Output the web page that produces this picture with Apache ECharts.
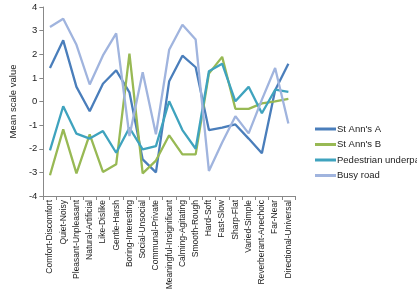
<!DOCTYPE html>
<html>
<head>
<meta charset="utf-8">
<script src="https://cdn.jsdelivr.net/npm/echarts@6/dist/echarts.min.js"></script>
<style>
  html, body { margin: 0; padding: 0; background: #fff; }
  #chart { width: 417px; height: 303px; }
</style>
</head>
<body>
<div id="chart"></div>
<script>
// scale pairs on the x axis
const categories = [
  "Comfort-Discomfort", "Quiet-Noisy", "Pleasant-Unpleasant", "Natural-Artificial",
  "Like-Dislike", "Gentle-Harsh", "Boring-Interesting", "Social-Unsocial",
  "Communal-Private", "Meaningful-Insignificant", "Calming-Agitating", "Smooth-Rough",
  "Hard-Soft", "Fast-Slow", "Sharp-Flat", "Varied-Simple",
  "Reverberant-Anechoic", "Far-Near", "Directional-Universal"
];
const yTicks = [-4, -3, -2, -1, 0, 1, 2, 3, 4];

const stAnnsA = [1.42, 2.59, 0.62, -0.41, 0.75, 1.32, 0.39, -2.45, -3.0, 0.86, 1.94, 1.45, -1.21, -1.11, -0.97, -1.57, -2.19, 0.48, 1.6];
const stAnnsB = [-3.12, -1.18, -3.04, -1.39, -2.98, -2.66, 2.03, -3.04, -2.5, -1.43, -2.24, -2.24, 1.18, 1.89, -0.31, -0.31, -0.08, 0.01, 0.11];
const pedestrian = [-2.07, -0.2, -1.36, -1.57, -1.25, -2.17, -1.11, -2.03, -1.89, 0.01, -1.21, -2.0, 1.28, 1.6, 0.01, 0.62, -0.5, 0.5, 0.41];
const busyRoad = [3.15, 3.5, 2.4, 0.72, 1.95, 2.88, -1.46, 1.24, -1.39, 2.19, 3.25, 2.62, -2.94, -1.74, -0.62, -1.35, 0.08, 1.42, -0.93];

const names = ["St Ann's A", "St Ann's B", "Pedestrian underpass", "Busy road"];
const colors = ["#4A7EBB", "#98B954", "#3FA3BE", "#A0B4DE"];
const values = [stAnnsA, stAnnsB, pedestrian, busyRoad];

const font = "Liberation Sans";

let chart = echarts.init(document.getElementById("chart"));

let series = [];
for (let i = 0; i < values.length; i++) {
  series.push({
    name: names[i],
    type: "line",
    data: values[i],
    symbol: "none",
    lineStyle: { width: 2.3, color: colors[i] },
    itemStyle: { color: colors[i] },
    animation: false
  });
}

let option = {
  backgroundColor: "#fff",
  textStyle: { fontFamily: font },
  legend: {
    orient: "vertical",
    left: 310,
    top: 119,
    itemWidth: 21,
    itemHeight: 3,
    itemGap: 5.5,
    icon: "rect",
    textStyle: { fontFamily: font, fontSize: 9.5, color: "#222", padding: [0, 0, 0, -4] },
    data: names
  },
  grid: {
    left: 30,
    right: 122,
    top: 7,
    bottom: 107
  },
  xAxis: {
    type: "category",
    data: categories,
    boundaryGap: true,
    axisLine: { onZero: false, lineStyle: { color: "#888" } },
    axisTick: { show: true, length: 4, lineStyle: { color: "#888" } },
    axisLabel: {
      interval: 0,
      rotate: 90,
      fontFamily: font,
      fontSize: 8.5,
      color: "#222",
      margin: 4
    },
    splitLine: { show: false }
  },
  yAxis: {
    type: "value",
    min: yTicks[0],
    max: yTicks[yTicks.length - 1],
    interval: 1,
    name: "Mean scale value",
    nameLocation: "middle",
    nameGap: 22,
    nameTextStyle: { fontFamily: font, fontSize: 9.5, color: "#222" },
    axisLine: { show: true, lineStyle: { color: "#888" } },
    axisTick: { show: true, length: 4, lineStyle: { color: "#888" } },
    axisLabel: { fontFamily: font, fontSize: 9.5, color: "#222", margin: 6 },
    splitLine: { show: false }
  },
  series: series
};

chart.setOption(option, true);
</script>
</body>
</html>
